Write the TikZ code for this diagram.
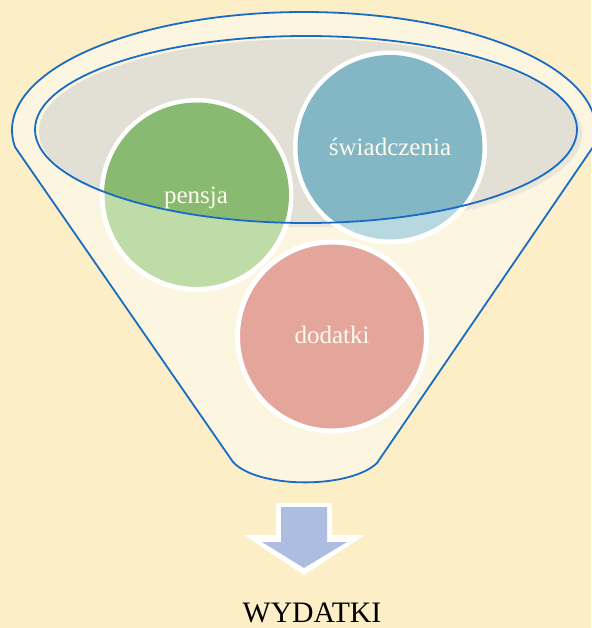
\documentclass[tikz,border=0pt]{standalone}
\usepackage{fontspec}
\setmainfont{Liberation Serif}
\definecolor{bgc}{HTML}{FCEFC7}
\definecolor{bodyc}{HTML}{FCF6E0}
\definecolor{grayc}{HTML}{E2DFD4}
\definecolor{shadowc}{HTML}{E9E6DC}
\definecolor{linec}{HTML}{1A6BC4}
\definecolor{greend}{HTML}{88BA72}
\definecolor{greenl}{HTML}{BEDBA8}
\definecolor{blued}{HTML}{83B7C6}
\definecolor{bluel}{HTML}{B8D8DF}
\definecolor{redc}{HTML}{E4A59B}
\definecolor{arrowc}{HTML}{ADBDE2}
\definecolor{labelc}{HTML}{FFFAEE}
\tikzset{
  funnelline/.style={draw=linec, line width=1.8pt, line join=round},
  ball/.style={circle, draw=white, line width=5pt, minimum size=189pt, inner sep=0pt},
  balllabel/.style={anchor=base, text=labelc, font=\fontsize{25}{28}\selectfont, inner sep=0pt},
}
\begin{document}
\begin{tikzpicture}[x=1pt, y=-1pt]
\useasboundingbox (0,0) rectangle (591,628);
\fill[bgc] (0,0) rectangle (591,628);
% funnel body
\path[fill=bodyc, funnelline] (233,462) -- (15,147)
  -- plot[domain=188.28:-8.28, samples=150, variable=\t] ({304+292*cos(\t)},{130-118*sin(\t)})
  -- (593,147) -- (377,463) .. controls (350,489) and (258,489) .. (233,462) -- cycle;
% inner ellipse fill
\fill[shadowc] (311,133.5) ellipse [x radius=271, y radius=94];
\fill[grayc] (308,131) ellipse [x radius=269, y radius=92];
% circles
\node[ball, fill=greenl] (pc) at (196.5,195) {};
\node[ball, fill=bluel] (sc) at (390,147.5) {};
\node[ball, fill=redc] (dc) at (332,336.5) {};
\begin{scope}
  \clip (306,129.5) ellipse [x radius=271, y radius=93.5];
  \fill[greend] (pc.center) circle [radius=92.5];
  \fill[blued] (sc.center) circle [radius=92.5];
\end{scope}
% inner ellipse outline
\draw[funnelline] (306,129.5) ellipse [x radius=271, y radius=93.5];
% labels
\node[balllabel] (pl) at (196,204) {pensja};
\node[balllabel] (sl) at (390,156) {świadczenia};
\node[balllabel] (dl) at (332,343) {dodatki};
% arrow
\fill[white] (276,503) -- (332,503) -- (332,535) -- (365,535) -- (304,575) -- (244,535) -- (276,535) -- cycle;
\fill[arrowc] (281,507) -- (327,507) -- (327,542) -- (347,542) -- (304,568) -- (262,542) -- (281,542) -- cycle;
\node[anchor=base, inner sep=0pt, text=black, font=\fontsize{29.7}{32}\selectfont] (wy) at (312,622) {WYDATKI};
\end{tikzpicture}
\end{document}
